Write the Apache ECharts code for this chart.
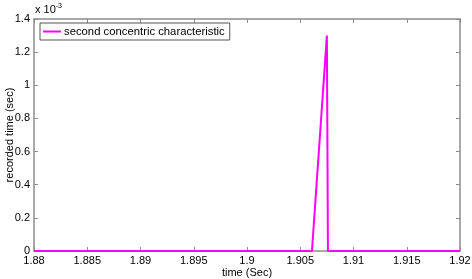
<!DOCTYPE html>
<html><head><meta charset="utf-8">
<script src="https://cdn.jsdelivr.net/npm/echarts@6/dist/echarts.min.js"></script>
<style>html,body{margin:0;padding:0;background:#fff}#c{width:472px;height:279px}</style>
</head><body><div id="c"></div>
<script>
var seriesName = 'second concentric characteristic';
var timeSec = [1.88, 1.9061, 1.9075, 1.9076, 1.92];
var recordedSec = [0, 0, 0.0013, 0, 0];
var xTicks = [1.88, 1.885, 1.89, 1.895, 1.9, 1.905, 1.91, 1.915, 1.92];
var yTicksScaled = [0, 0.2, 0.4, 0.6, 0.8, 1, 1.2, 1.4];

var data = timeSec.map(function(t, i){ return [t, recordedSec[i]]; });
var font = 'Liberation Sans, Arial, sans-serif';
var axisGray = '#8c8c8c';
var chart = echarts.init(document.getElementById('c'));
function xLab(v){ var s = Math.round(v*1000)/1000; return String(s); }
var baseX = {
  type: 'value', min: 1.88, max: 1.92, interval: 0.005,
  axisLine: {show: true, onZero: false, lineStyle: {color: axisGray, width: 1.5}},
  axisTick: {show: true, inside: true, length: 4, lineStyle: {color: axisGray}},
  splitLine: {show: false}
};
var baseY = {
  type: 'value', min: 0, max: 0.0014, interval: 0.0002,
  axisLine: {show: true, onZero: false, lineStyle: {color: axisGray, width: 1.5}},
  axisTick: {show: true, inside: true, length: 4, lineStyle: {color: axisGray}},
  splitLine: {show: false}
};
chart.setOption({
  animation: false,
  backgroundColor: '#fff',
  grid: {left: 34, right: 12, top: 19, bottom: 28, containLabel: false, outerBoundsMode: 'none'},
  xAxis: [
    Object.assign({}, baseX, {position: 'bottom',
      name: 'time (Sec)', nameLocation: 'middle', nameGap: 16, nameMoveOverlap: false,
      nameTextStyle: {color: '#000', fontFamily: font, fontSize: 11},
      axisLabel: {color: '#000', fontFamily: font, fontSize: 11, margin: 4, formatter: xLab,
        showMinLabel: true, showMaxLabel: true}}),
    Object.assign({}, baseX, {position: 'top', axisLabel: {show: false}})
  ],
  yAxis: [
    Object.assign({}, baseY, {position: 'left',
      name: 'recorded time (sec)', nameLocation: 'middle', nameGap: 19, nameRotate: 90,
      nameMoveOverlap: false,
      nameTextStyle: {color: '#000', fontFamily: font, fontSize: 11},
      axisLabel: {color: '#000', fontFamily: font, fontSize: 11, margin: 4,
        formatter: function(v){ return String(Math.round(v*10000)/10); }}}),
    Object.assign({}, baseY, {position: 'right', axisLabel: {show: false}})
  ],
  legend: {
    show: true, left: 40, top: 23, orient: 'vertical',
    backgroundColor: '#fff', borderColor: '#555', borderWidth: 1, borderRadius: 0,
    padding: [3, 5, 3, 3], itemWidth: 18, itemHeight: 2, itemGap: 4,
    icon: 'rect',
    textStyle: {color: '#000', fontFamily: font, fontSize: 11.3, padding: [0,0,0,-2]},
    data: [{name: seriesName, icon: 'rect'}]
  },
  graphic: [{
    type: 'text', left: 35, top: 3,
    style: {
      text: '{a|x 10}{b|-3}', fill: '#000',
      rich: {a: {fontFamily: font, fontSize: 11, fill: '#000'},
             b: {fontFamily: font, fontSize: 7, fill: '#000', verticalAlign: 'top', padding: [0,0,6,0]}}
    }
  }],
  series: [{
    name: seriesName, type: 'line', data: data, xAxisIndex: 0, yAxisIndex: 0,
    showSymbol: false, symbol: 'none',
    lineStyle: {color: '#ff00ff', width: 2},
    itemStyle: {color: '#ff00ff'}
  }]
});
</script></body></html>
